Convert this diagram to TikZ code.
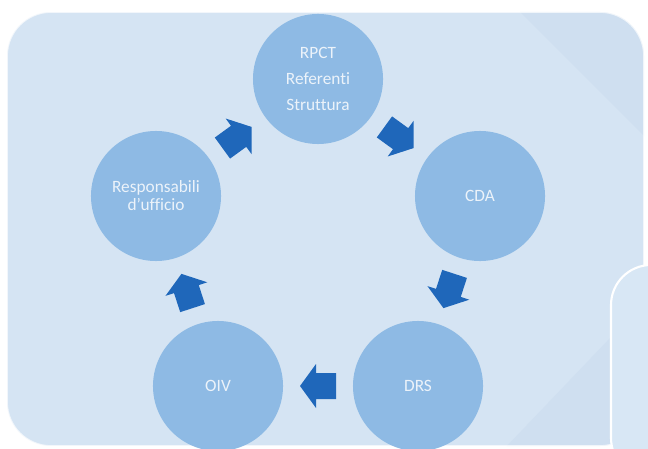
\documentclass[tikz,border=0pt]{standalone}
\usepackage{fontspec}
\setmainfont{Carlito}[Ligatures = {TeX, NoCommon}]
\usetikzlibrary{calc}

\definecolor{panelblue}{RGB}{213,228,243}
\definecolor{panelshade}{RGB}{207,223,240}
\definecolor{panellight}{RGB}{216,231,245}
\definecolor{circleblue}{RGB}{142,186,228}
\definecolor{arrowblue}{RGB}{31,103,186}
\definecolor{labelwhite}{RGB}{236,243,250}

\tikzset{
  stage/.style = {circle, fill = circleblue, minimum size = 3.25cm, inner sep = 0pt,
    text = labelwhite, align = center, font = \fontsize{12.3}{12.8}\selectfont},
  flowarrow/.pic = {
    \fill[arrowblue] (-18, -13) -- (2, -13) -- (2, -22) -- (18, 0) -- (2, 22) -- (2, 13) -- (-18, 13) -- cycle;
  }
}

\begin{document}
\begin{tikzpicture} [x = 0.025cm, y = 0.025cm]
\useasboundingbox (0, 0) rectangle (648, 448);
\clip (0, 0) rectangle (648, 448);
\fill[white] (0, 0) rectangle (648, 448);
% background panels
\begin{scope}
\clip[rounded corners = 1.1cm] (7, 2) rectangle (644, 436);
\fill[panelblue] (7, 2) rectangle (644, 436);
\fill[panelshade] (520, 436) -- (648, 436) -- (648, 308) -- cycle;
\fill[panelshade] (505, 0) -- (612, 112) -- (648, 112) -- (648, 0) -- cycle;
\end{scope}
\draw[white, opacity = 0.7, line width = 1.2pt, rounded corners = 1.1cm] (7, 2) rectangle (644, 436);
\filldraw[fill = panellight, draw = white, line width = 1.5pt, rounded corners = 1cm] (611, -30) rectangle (700, 183);
% cycle
\node[stage] (rpct) at (318, 369) {RPCT\\[5.6pt]Referenti\\[5.6pt]Struttura};
\node[stage] (cda) at (480, 252) {CDA};
\node[stage] (drs) at (418, 62) {DRS};
\node[stage] (oiv) at (218, 62) {OIV};
\node[stage] (resp) at (156, 252) {Responsabili\\d’ufficio};
\pic[rotate = 36] at ($(resp)!0.5!(rpct)$) {flowarrow};
\pic[rotate = -36] at ($(rpct)!0.5!(cda)$) {flowarrow};
\pic[rotate = -108] at ($(cda)!0.5!(drs)$) {flowarrow};
\pic[rotate = 180] at ($(drs)!0.5!(oiv)$) {flowarrow};
\pic[rotate = 108] at ($(oiv)!0.5!(resp)$) {flowarrow};
\end{tikzpicture}
\end{document}
